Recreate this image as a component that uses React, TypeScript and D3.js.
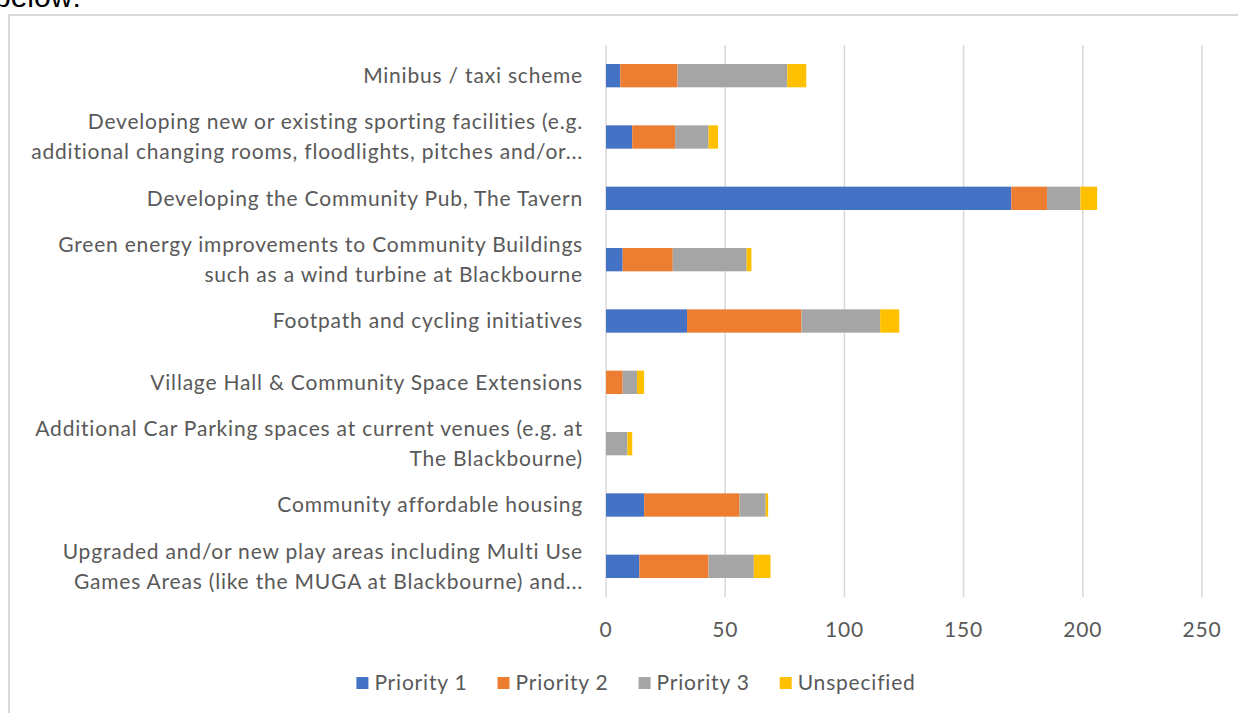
import React, { useEffect, useRef } from 'react';
import * as d3 from 'd3';

// categories top -> bottom, wrapped the way the chart shows them
const categories: string[][] = [
  ['Minibus / taxi scheme'],
  ['Developing new or existing sporting facilities (e.g.', 'additional changing rooms, floodlights, pitches and/or...'],
  ['Developing the Community Pub, The Tavern'],
  ['Green energy improvements to Community Buildings', 'such as a wind turbine at Blackbourne'],
  ['Footpath and cycling initiatives'],
  ['Village Hall & Community Space Extensions'],
  ['Additional Car Parking spaces at current venues (e.g. at', 'The Blackbourne)'],
  ['Community affordable housing'],
  ['Upgraded and/or new play areas including Multi Use', 'Games Areas (like the MUGA at Blackbourne) and...'],
];

const seriesNames = ['Priority 1', 'Priority 2', 'Priority 3', 'Unspecified'];
const priority1 = [6, 11, 170, 7, 34, 0, 0, 16, 14];
const priority2 = [24, 18, 15, 21, 48, 7, 0, 40, 29];
const priority3 = [46, 14, 14, 31, 33, 6, 9, 11, 19];
const unspecified = [8, 4, 7, 2, 8, 3, 2, 1, 7];
const xTicks = [0, 50, 100, 150, 200, 250];

const colors = ['#4472C4', '#ED7D31', '#A5A5A5', '#FFC000'];
const FONT = 'Lato, "Open Sans", sans-serif';
const TEXT = '#595959';
const FS = 21;
const LS = 0.8; // letter spacing, the original text is set quite loose

const W = 1238;
const H = 713;

const App: React.FC = () => {
  const svgRef = useRef<SVGSVGElement | null>(null);

  useEffect(() => {
    if (!svgRef.current) return;
    const svg = d3.select(svgRef.current);
    svg.selectAll('*').remove();

    const keys = categories.map((c) => c.join(' '));
    const rows = keys.map((k, i) => ({
      key: k,
      p1: priority1[i],
      p2: priority2[i],
      p3: priority3[i],
      un: unspecified[i],
    }));

    const x = d3.scaleLinear().domain([0, 250]).range([606, 1202]);
    const y = d3.scaleBand().domain(keys).range([45, 597]).paddingInner(0.62).paddingOuter(0.31);

    // bit of text above the chart frame, cut off by the window
    svg
      .append('text')
      .attr('x', -6)
      .attr('y', 7)
      .attr('font-family', '"Liberation Sans", Arial, sans-serif')
      .attr('font-size', 30)
      .attr('fill', '#000')
      .text('below:');

    // chart frame
    svg
      .append('rect')
      .attr('x', 9)
      .attr('y', 15)
      .attr('width', W + 20)
      .attr('height', H + 20)
      .attr('fill', '#fff')
      .attr('stroke', '#D9D9D9')
      .attr('stroke-width', 2);

    // grid lines
    svg
      .append('g')
      .selectAll('line')
      .data(xTicks)
      .join('line')
      .attr('x1', (d) => x(d))
      .attr('x2', (d) => x(d))
      .attr('y1', 45)
      .attr('y2', 597)
      .attr('stroke', '#D9D9D9')
      .attr('stroke-width', 1.5);

    // stacked bars
    const stack = d3.stack<any>().keys(['p1', 'p2', 'p3', 'un'])(rows);
    svg
      .append('g')
      .selectAll('g')
      .data(stack)
      .join('g')
      .attr('fill', (_, i) => colors[i])
      .selectAll('rect')
      .data((d) => d)
      .join('rect')
      .attr('x', (d) => x(d[0]))
      .attr('width', (d) => Math.max(0, x(d[1]) - x(d[0])))
      .attr('y', (d) => y(d.data.key)!)
      .attr('height', y.bandwidth());

    // x tick labels
    svg
      .append('g')
      .selectAll('text')
      .data(xTicks)
      .join('text')
      .attr('x', (d) => x(d))
      .attr('y', 630)
      .attr('dy', '0.35em')
      .attr('text-anchor', 'middle')
      .attr('font-family', FONT)
      .attr('font-size', FS)
      .attr('letter-spacing', LS)
      .attr('fill', TEXT)
      .text((d) => d);

    // category labels
    const lineGap = 30;
    const lab = svg.append('g');
    categories.forEach((lines, i) => {
      const cy = y(keys[i])! + y.bandwidth() / 2;
      lines.forEach((ln, j) => {
        lab
          .append('text')
          .attr('x', 583)
          .attr('y', cy + (j - (lines.length - 1) / 2) * lineGap)
          .attr('dy', '0.35em')
          .attr('text-anchor', 'end')
          .attr('font-family', FONT)
          .attr('font-size', FS)
          .attr('letter-spacing', LS)
          .attr('fill', TEXT)
          .text(ln);
      });
    });

    // legend
    const leg = svg.append('g');
    const items = seriesNames.map((name, i) => {
      const g = leg.append('g');
      g.append('rect').attr('x', 0).attr('y', 677).attr('width', 12).attr('height', 12).attr('fill', colors[i]);
      const t = g
        .append('text')
        .attr('x', 18)
        .attr('y', 683)
        .attr('dy', '0.35em')
        .attr('font-family', FONT)
        .attr('font-size', FS)
        .attr('letter-spacing', LS)
        .attr('fill', TEXT)
        .text(name);
      const w = 18 + (t.node() as SVGTextElement).getComputedTextLength();
      return { g, w };
    });
    const gap = 30;
    const total = d3.sum(items, (d) => d.w) + gap * (items.length - 1);
    let cx = 636 - total / 2;
    items.forEach((it) => {
      it.g.attr('transform', `translate(${cx},0)`);
      cx += it.w + gap;
    });
  }, []);

  return (
    <svg
      ref={svgRef}
      width={W}
      height={H}
      style={{ position: 'absolute', left: 0, top: 0, background: '#fff' }}
    ></svg>
  );
};

export default App;
